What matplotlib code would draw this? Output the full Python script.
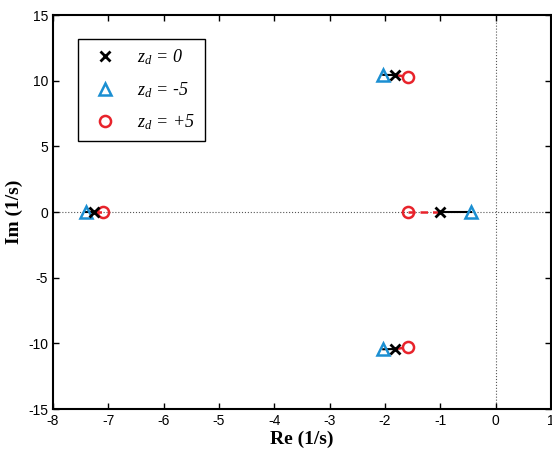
import matplotlib
matplotlib.use("Agg")
import matplotlib.pyplot as plt

# pole positions
re_zd0 = [-1.81, -1.81, -1.01, -7.26]
im_zd0 = [10.43, -10.43, 0.0, 0.0]
re_zdm5 = [-2.03, -2.03, -0.45, -7.40]
im_zdm5 = [10.45, -10.45, 0.0, 0.0]
re_zdp5 = [-1.59, -1.59, -1.59, -7.09]
im_zdp5 = [10.30, -10.30, 0.0, 0.0]

xticks = list(range(-8, 2))
yticks = [-15, -10, -5, 0, 5, 10, 15]

blue = '#1b8fd2'
red = '#e8232b'

plt.rcParams['font.family'] = ['Liberation Sans', 'DejaVu Sans']
plt.rcParams['axes.unicode_minus'] = False
plt.rcParams['mathtext.fontset'] = 'custom'
plt.rcParams['mathtext.rm'] = 'Liberation Serif:italic'
plt.rcParams['mathtext.it'] = 'Liberation Serif:italic'

fig = plt.figure(figsize=(5.52, 4.57), dpi=100)
ax = fig.add_axes([0.096, 0.105, 0.902, 0.862])

ax.axhline(0, color='#555555', linestyle=':', linewidth=0.8, zorder=0)
ax.axvline(0, color='#555555', linestyle=':', linewidth=0.8, zorder=0)

# locus segments: zd 0 -> -5 solid black, 0 -> +5 dashed red
for i in range(len(re_zd0)):
    ax.plot([re_zd0[i], re_zdm5[i]], [im_zd0[i], im_zdm5[i]], '-', color='black', linewidth=1.5, zorder=1)
    ax.plot([re_zd0[i], re_zdp5[i]], [im_zd0[i], im_zdp5[i]], color=red, linewidth=1.8,
            dashes=(3, 2), zorder=1)

ax.plot(re_zd0, im_zd0, 'x', color='black', markersize=7, markeredgewidth=2, linestyle='none',
        label=r'$z_d\,=\,0$', zorder=3)
ax.plot(re_zdm5, im_zdm5, '^', color=blue, markersize=9, markeredgewidth=1.8, markerfacecolor='none',
        linestyle='none', label=r'$z_d\,=\,$-$5$', zorder=2)
ax.plot(re_zdp5, im_zdp5, 'o', color=red, markersize=8, markeredgewidth=1.8, markerfacecolor='none',
        linestyle='none', label=r'$z_d\,=\,{+}5$', zorder=2)

ax.set_xlim(-8, 1)
ax.set_ylim(-15, 15)
ax.set_xticks(xticks)
ax.set_yticks(yticks)
ax.tick_params(direction='in', top=True, right=True, labelsize=10, length=4, width=1)
for s in ax.spines.values():
    s.set_linewidth(1.5)

ax.set_xlabel('Re (1/s)', family='Liberation Serif', fontweight='bold', fontsize=14, labelpad=2)
ax.set_ylabel('Im (1/s)', family='Liberation Serif', fontweight='bold', fontsize=14, labelpad=4)

leg = ax.legend(loc='upper left', bbox_to_anchor=(0.05, 0.94), fontsize=13, fancybox=False,
                framealpha=1, edgecolor='black', borderpad=0.5, labelspacing=0.7,
                handletextpad=0.8, borderaxespad=0)
leg.get_frame().set_linewidth(1.0)

fig.savefig('out.png', dpi=100)
